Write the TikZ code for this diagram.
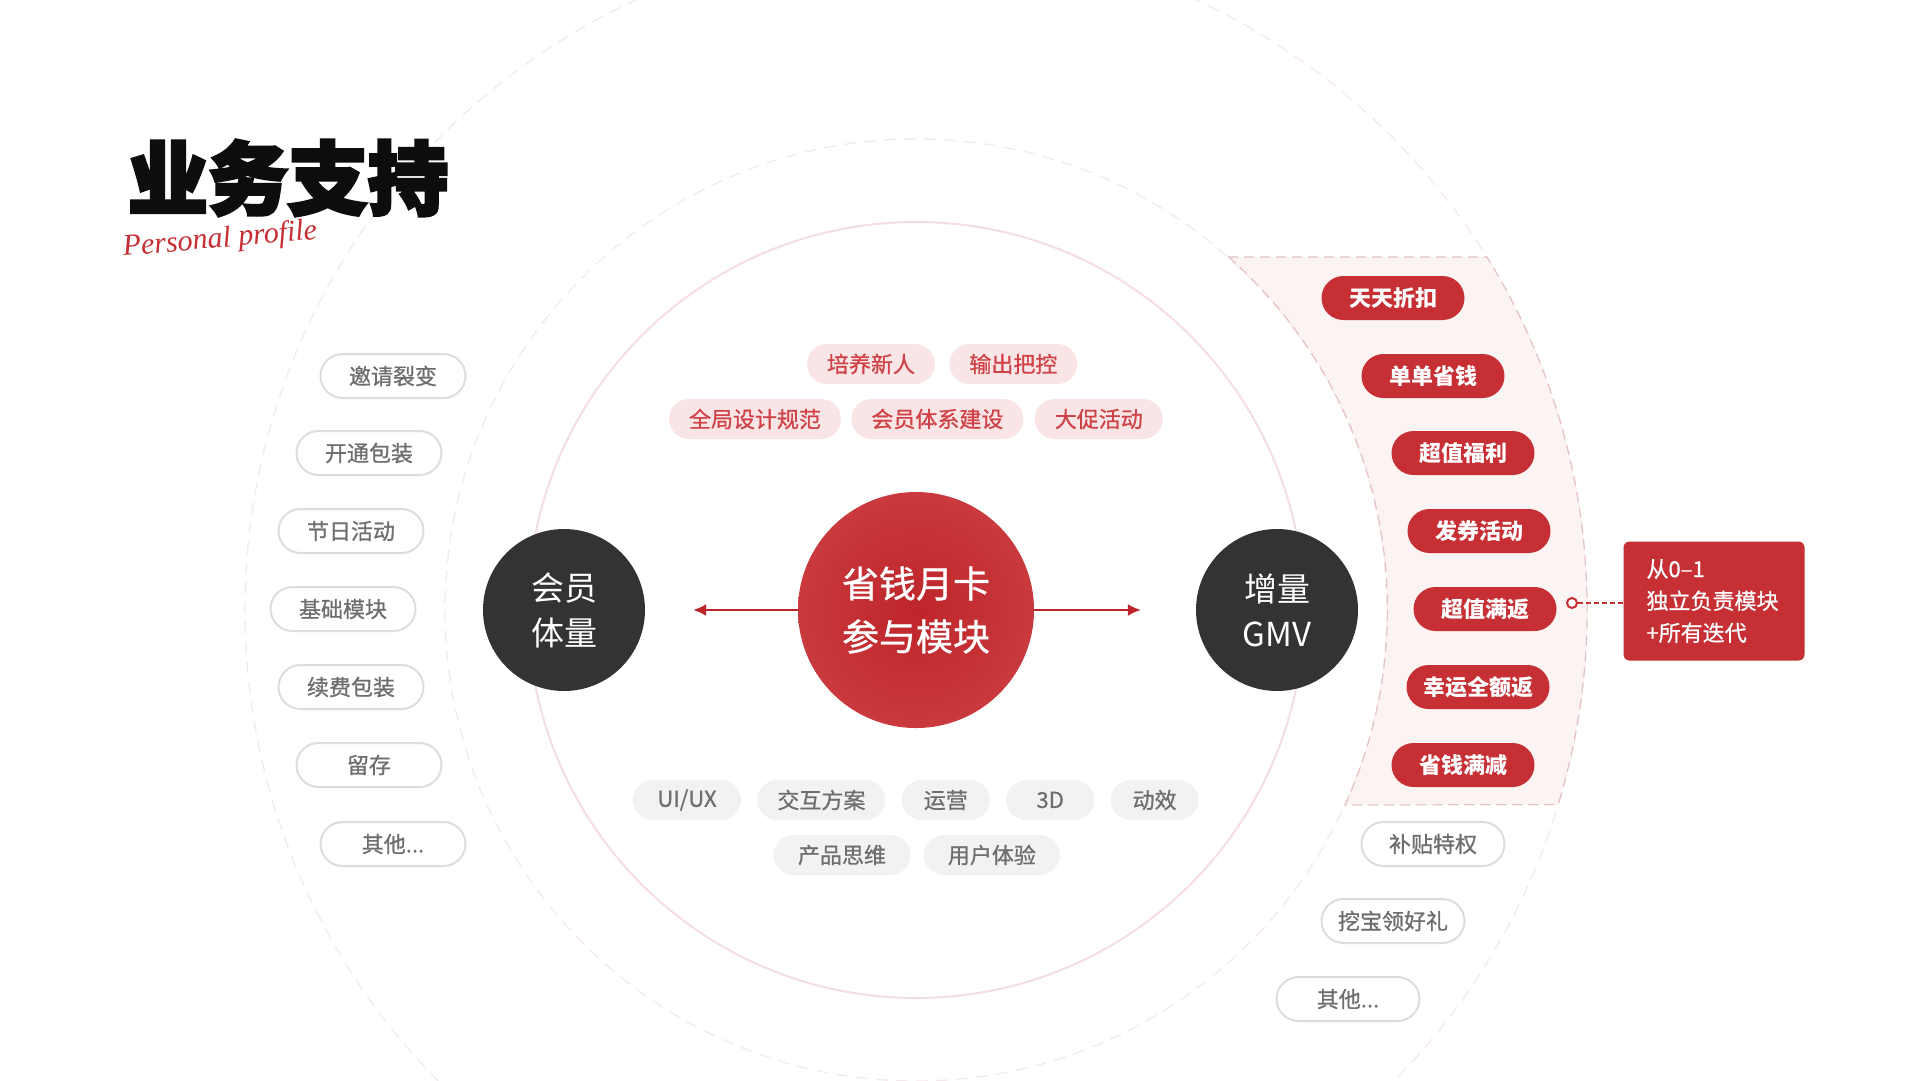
\documentclass[tikz,border=0pt]{standalone}
\usepackage{fontspec}
\setmainfont{Noto Sans CJK SC}
\newfontfamily\titlefont{Noto Sans CJK SC}[FakeBold=4]
\newfontfamily\chipfont{Noto Sans CJK SC}[FakeBold=0.8]
\newfontfamily\sigfont{Liberation Serif}
\usetikzlibrary{arrows.meta,positioning,shapes.misc}
\definecolor{CardRed}{HTML}{C62F33}
\definecolor{CardDeep}{HTML}{BE252A}
\definecolor{CardInk}{HTML}{333333}
\definecolor{CardPink}{HTML}{F9E5E5}
\definecolor{CardRose}{HTML}{CF4247}
\definecolor{CardGrey}{HTML}{F2F2F2}
\definecolor{CardText}{HTML}{6E6E6E}
\definecolor{CardRim}{HTML}{DDDDDD}
\definecolor{CardRing}{HTML}{F4DEDF}
\definecolor{CardDash}{HTML}{F5EAEB}
\definecolor{CardBand}{HTML}{FCF3F3}
\definecolor{CardEdge}{HTML}{E6C0C2}

\begin{document}
\begin{tikzpicture}[
    x=1pt,y=1pt,
    hub/.style={circle,fill=CardInk,text=white,minimum size=162pt,align=center,font=\fontsize{33}{45}\selectfont},
    pinkchip/.style={rectangle,rounded corners=20pt,fill=CardPink,text=CardRose,minimum height=40pt,inner xsep=20pt,font=\chipfont\fontsize{22}{26}\selectfont},
    greychip/.style={rectangle,rounded corners=20pt,fill=CardGrey,text=CardText,minimum height=40pt,minimum width=88pt,inner xsep=20pt,font=\chipfont\fontsize{22}{26}\selectfont},
    redchip/.style={rectangle,rounded corners=22pt,fill=CardRed,text=white,minimum height=44pt,minimum width=143pt,font=\bfseries\fontsize{22}{26}\selectfont},
    linechip/.style={rectangle,rounded corners=22pt,draw=CardRim,line width=2pt,fill=white,text=CardText,minimum height=44pt,minimum width=145pt,font=\chipfont\fontsize{22}{26}\selectfont},
    link/.style={-{Latex[length=13pt,width=12pt]},line width=2pt,CardDeep}
  ]
    \useasboundingbox (0,0) rectangle (1920,-1080);
    \fill[white] (0,0) rectangle (1920,-1080);

    % rings
    \coordinate (mid) at (916,-610);
    \draw[CardDash,line width=1.3pt,dash pattern=on 12pt off 8pt] (mid) circle[radius=671];
    \draw[CardDash,line width=1.3pt,dash pattern=on 12pt off 8pt] (mid) circle[radius=471];
    \draw[CardRing,line width=2pt] (mid) circle[radius=388];

    % band
    \filldraw[fill=CardBand,draw=CardEdge,line width=1.2pt,dash pattern=on 10pt off 6pt]
      (1228,-257) -- (1487,-257) arc[start angle=31.7,end angle=-16.9,radius=671]
      -- (1345,-805) arc[start angle=-24.5,end angle=48.5,radius=471] -- cycle;

    % title
    \node[font=\titlefont\bfseries\fontsize{80}{80}\selectfont,text=black!95] (ttl) at (288,-178) {业务支持};
    \node[font=\sigfont\itshape\fontsize{30}{30}\selectfont,text=CardRed,rotate=5] (sig) at (220,-240) {Personal profile};

    % centre
    \node[circle,minimum size=236pt,inner color=CardDeep,outer color=CardRed!95!white,text=white,align=center,font=\chipfont\fontsize{37}{53}\selectfont] (ctr) at (mid) {省钱月卡\\参与模块};
    \node[hub] (member) at (564,-610) {会员\\体量};
    \node[hub] (gmv) at (1277,-610) {增量\\GMV};
    \draw[link,shorten >=48pt] (ctr.west) -- (member.east);
    \draw[link,shorten >=55pt] (ctr.east) -- (gmv.west);

    % design chips
    \node[pinkchip] (train) at (871,-364) {培养新人};
    \node[pinkchip,right=14pt of train] (output) {输出把控};
    \node[pinkchip] (spec) at (755,-419) {全局设计规范};
    \node[pinkchip,right=10pt of spec] (system) {会员体系建设};
    \node[pinkchip,right=11pt of system] (promo) {大促活动};

    \node[greychip,minimum width=108pt] (uiux) at (687,-800) {UI/UX};
    \node[greychip,right=16pt of uiux] (interact) {交互方案};
    \node[greychip,right=16pt of interact] (ops) {运营};
    \node[greychip,right=16pt of ops] (threed) {3D};
    \node[greychip,right=16pt of threed] (motion) {动效};
    \node[greychip,minimum width=137pt] (product) at (842,-855) {产品思维};
    \node[greychip,minimum width=136pt,right=13pt of product] (ux) {用户体验};

    % member side
    \node[linechip] (invite) at (393,-376) {邀请裂变};
    \node[linechip] (open) at (369,-453) {开通包装};
    \node[linechip] (holiday) at (351,-531) {节日活动};
    \node[linechip] (basic) at (343,-609) {基础模块};
    \node[linechip] (renew) at (351,-687) {续费包装};
    \node[linechip] (retain) at (369,-765) {留存};
    \node[linechip] (otherL) at (393,-844) {其他...};

    % gmv side
    \node[redchip] (daily) at (1393,-298) {天天折扣};
    \node[redchip] (order) at (1433,-376) {单单省钱};
    \node[redchip] (value) at (1463,-453) {超值福利};
    \node[redchip] (coupon) at (1479,-531) {发券活动};
    \node[redchip] (refund) at (1485,-609) {超值满返};
    \node[redchip] (lucky) at (1478,-687) {幸运全额返};
    \node[redchip] (cut) at (1463,-765) {省钱满减};
    \node[linechip,minimum width=143pt] (subsidy) at (1433,-844) {补贴特权};
    \node[linechip,minimum width=143pt] (dig) at (1393,-921) {挖宝领好礼};
    \node[linechip,minimum width=143pt] (otherR) at (1348,-999) {其他...};

    % note
    \node[rectangle,rounded corners=6pt,fill=CardRed,text=white,text width=135pt,inner xsep=23pt,minimum height=119pt,align=left,font=\chipfont\fontsize{22}{32}\selectfont] (note) at (1714,-601) {从0–1\\独立负责模块\\+所有迭代};
    \node[circle,draw=CardRed,fill=white,line width=2pt,minimum size=10pt,inner sep=0pt] (dot) at (1572,-603) {};
    \draw[CardRed,line width=2pt,dash pattern=on 5pt off 3pt] (dot.east) -- (note.west |- dot);
  \end{tikzpicture}
\end{document}
